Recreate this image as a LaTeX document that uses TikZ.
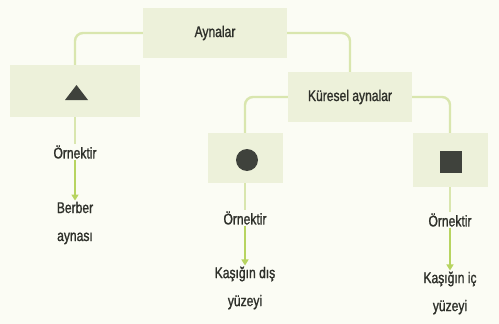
\documentclass[tikz,border=0pt]{standalone}
\usepackage{fontspec}
\setmainfont[FakeStretch=0.78,FakeBold=1.2]{Liberation Sans}
\usetikzlibrary{arrows.meta}
\definecolor{bg}{HTML}{FBFCF4}
\definecolor{boxfill}{HTML}{EDF1DA}
\definecolor{conn}{HTML}{D9E6AE}
\definecolor{arr}{HTML}{B7D460}
\definecolor{txt}{HTML}{2E302A}
\definecolor{symcol}{HTML}{3F423C}
\tikzset{
  box/.style={rectangle, fill=boxfill, inner sep=0pt},
  lbl/.style={text=txt, font=\fontsize{15.5}{28}\selectfont, inner sep=1pt, align=center},
  conline/.style={draw=conn, line width=2.4pt, rounded corners=8pt},
  thinline/.style={draw=conn, line width=1.6pt},
  arrline/.style={draw=arr, line width=1.6pt, -{Triangle[length=6pt,width=7pt]}},
}
\begin{document}
\begin{tikzpicture}[x=1pt,y=-1pt]
\fill[bg] (0,0) rectangle (499,324);
\useasboundingbox (0,0) rectangle (499,324);
% boxes
\node[box, minimum width=144pt, minimum height=50pt, lbl] (A) at (215,33) {Aynalar};
\node[box, minimum width=130pt, minimum height=52pt] (T) at (75,91) {};
\node[box, minimum width=124pt, minimum height=50pt, lbl] (K) at (350,97) {Küresel aynalar};
\node[box, minimum width=75pt, minimum height=50pt] (C) at (245,158) {};
\node[box, minimum width=75pt, minimum height=54pt] (S) at (450,160) {};
% symbols
\fill[symcol] (65,100) -- (88,100) -- (76.5,85) -- cycle;
\fill[symcol] (247,160) circle (11pt);
\fill[symcol] (440,151) rectangle (462,173);
% connectors
\draw[conline] (A.west) -| (T.north);
\draw[conline] (A.east) -| (K.north);
\draw[conline] (K.west) -| (C.north);
\draw[conline] (K.east) -| (S.north);
% labels
\node[lbl] (O1) at (75,152) {Örnektir};
\node[lbl] (O2) at (245,218) {Örnektir};
\node[lbl] (O3) at (450,220) {Örnektir};
\node[lbl] (R1) at (75,223) {Berber\\aynası};
\node[lbl] (R2) at (245,288) {Kaşığın dış\\yüzeyi};
\node[lbl] (R3) at (450,293) {Kaşığın iç\\yüzeyi};
\draw[thinline] (T.south) -- (O1.north);
\draw[thinline] (C.south) -- (O2.north);
\draw[thinline] (S.south) -- (O3.north);
\draw[arrline] (O1.south) -- (R1.north);
\draw[arrline] (O2.south) -- (R2.north);
\draw[arrline] (O3.south) -- (R3.north);
\end{tikzpicture}
\end{document}
